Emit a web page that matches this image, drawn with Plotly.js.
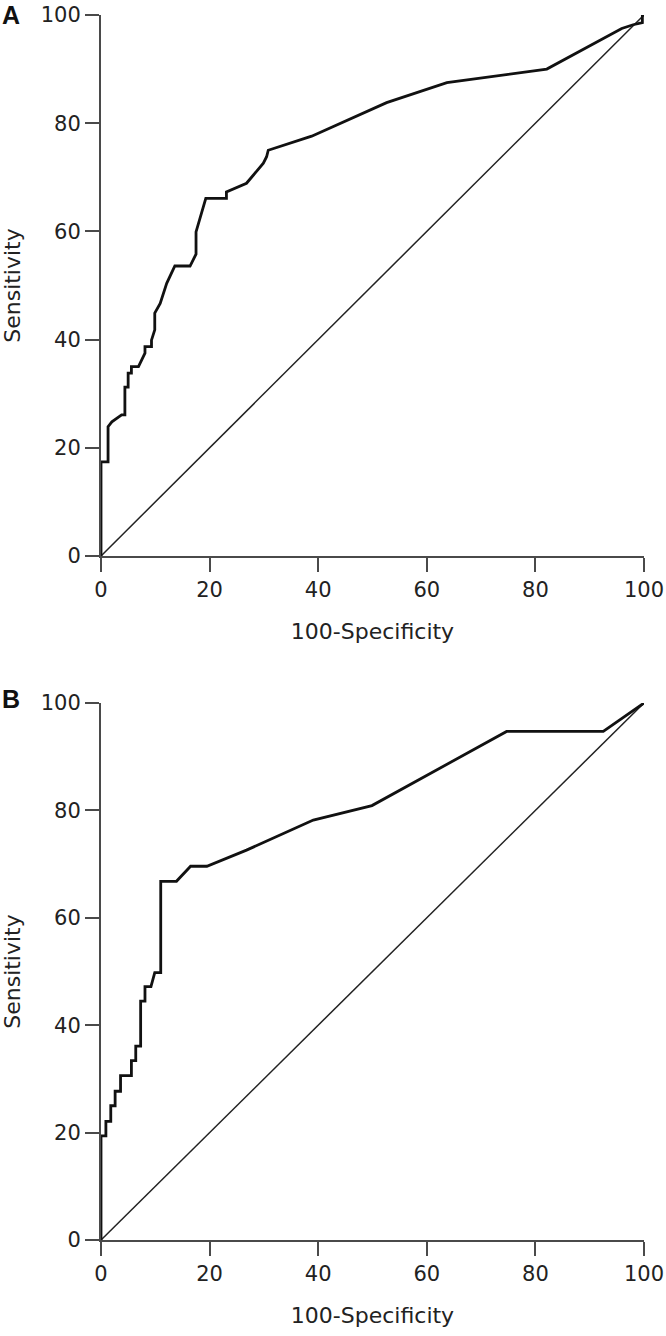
<!DOCTYPE html>
<html>
<head>
<meta charset="utf-8">
<script src="https://cdn.plot.ly/plotly-3.0.1.min.js"></script>
<style>html,body{margin:0;padding:0;background:#fff;}#chart{width:666px;height:1336px;}</style>
</head>
<body>
<div id="chart"></div>
<script>
// Panel A ROC curve (100-Specificity, Sensitivity)
const rocA_x = [0, 0, 1.3, 1.3, 2.0, 3.8, 4.4, 4.4, 5.0, 5.0, 5.6, 5.6, 6.9, 8.1, 8.1, 9.3, 9.3, 9.9, 9.9, 10.9, 12.1, 13.6, 16.4, 17.5, 17.5, 19.3, 23.1, 23.1, 26.8, 29.9, 30.5, 30.8, 38.8, 52.6, 63.7, 82.1, 95.9, 98.0, 99.7, 99.7, 100];
const rocA_y = [0, 17.4, 17.4, 23.9, 24.8, 26.1, 26.1, 31.2, 31.2, 33.8, 33.8, 35.0, 35.0, 37.5, 38.7, 38.7, 39.9, 41.8, 44.9, 46.7, 50.4, 53.6, 53.6, 55.8, 59.9, 66.1, 66.1, 67.3, 68.9, 72.6, 73.8, 75.0, 77.6, 83.8, 87.5, 90.0, 97.5, 98.2, 98.6, 100, 100];

// Panel B ROC curve
const rocB_x = [0, 0, 0.9, 0.9, 1.8, 1.8, 2.6, 2.6, 3.6, 3.6, 5.6, 5.6, 6.4, 6.4, 7.3, 7.3, 8.1, 8.1, 9.2, 9.9, 11.0, 11.0, 13.9, 16.5, 19.5, 26.8, 39.1, 49.9, 74.7, 92.5, 100];
const rocB_y = [0, 19.4, 19.4, 22.1, 22.1, 25.0, 25.0, 27.7, 27.7, 30.6, 30.6, 33.4, 33.4, 36.1, 36.1, 44.5, 44.5, 47.2, 47.2, 49.8, 49.8, 66.8, 66.8, 69.6, 69.6, 72.6, 78.2, 80.9, 94.7, 94.7, 100];

// Chance (reference) diagonal
const ref_x = [0, 100];
const ref_y = [0, 100];

const tickVals = [0, 20, 40, 60, 80, 100];
const tickText = ["0", "20", "40", "60", "80", "100"];
const panelLabels = ["A", "B"];
const xTitle = "100-Specificity";
const yTitle = "Sensitivity";

const FONT = "DejaVu Sans, Liberation Sans, Arial, sans-serif";
const AX = '#4a4a4a';

function xaxisCfg(anchor) {
  return {
    domain: [101/666, 644/666], range: [0, 100], anchor: anchor,
    showline: true, linecolor: AX, linewidth: 2,
    ticks: 'outside', ticklen: 14, tickwidth: 2, tickcolor: AX,
    tickvals: tickVals, ticktext: tickText,
    showgrid: false, zeroline: false, automargin: false, fixedrange: true,
    tickfont: {family: FONT, size: 21, color: '#222'},
    title: {text: xTitle, font: {family: FONT, size: 22, color: '#222'}, standoff: 22}
  };
}
function yaxisCfg(anchor, dom) {
  return {
    domain: dom, range: [0, 100], anchor: anchor,
    showline: true, linecolor: AX, linewidth: 2,
    ticks: 'outside', ticklen: 14, tickwidth: 2, tickcolor: AX,
    tickvals: tickVals, ticktext: tickText,
    showgrid: false, zeroline: false, automargin: false, fixedrange: true,
    tickfont: {family: FONT, size: 21, color: '#222'},
    title: {text: yTitle, font: {family: FONT, size: 22, color: '#222'}, standoff: 16}
  };
}

const H = 1336;
const domA = [(H - 556) / H, (H - 15) / H];
const domB = [(H - 1240) / H, (H - 703) / H];

const traces = [
  {x: ref_x, y: ref_y, xaxis: 'x', yaxis: 'y', mode: 'lines', line: {color: '#222', width: 1.5}, hoverinfo: 'skip'},
  {x: rocA_x, y: rocA_y, xaxis: 'x', yaxis: 'y', mode: 'lines', line: {color: '#111', width: 2.8}},
  {x: ref_x, y: ref_y, xaxis: 'x2', yaxis: 'y2', mode: 'lines', line: {color: '#222', width: 1.5}, hoverinfo: 'skip'},
  {x: rocB_x, y: rocB_y, xaxis: 'x2', yaxis: 'y2', mode: 'lines', line: {color: '#111', width: 2.8}}
];

const layout = {
  width: 666, height: 1336,
  margin: {l: 0, r: 0, t: 0, b: 0},
  paper_bgcolor: '#fff', plot_bgcolor: '#fff',
  showlegend: false,
  xaxis: xaxisCfg('y'),
  yaxis: yaxisCfg('x', domA),
  xaxis2: xaxisCfg('y2'),
  yaxis2: yaxisCfg('x2', domB),
  annotations: [
    {text: '<b>' + panelLabels[0] + '</b>', xref: 'paper', yref: 'paper', x: 0, y: (H - 15) / H, xanchor: 'left', yanchor: 'middle', showarrow: false, font: {family: "Liberation Sans, Arial, sans-serif", size: 25, color: '#111'}},
    {text: '<b>' + panelLabels[1] + '</b>', xref: 'paper', yref: 'paper', x: 0, y: (H - 699) / H, xanchor: 'left', yanchor: 'middle', showarrow: false, font: {family: "Liberation Sans, Arial, sans-serif", size: 25, color: '#111'}}
  ]
};

Plotly.newPlot('chart', traces, layout, {staticPlot: true, displayModeBar: false});
</script>
</body>
</html>
